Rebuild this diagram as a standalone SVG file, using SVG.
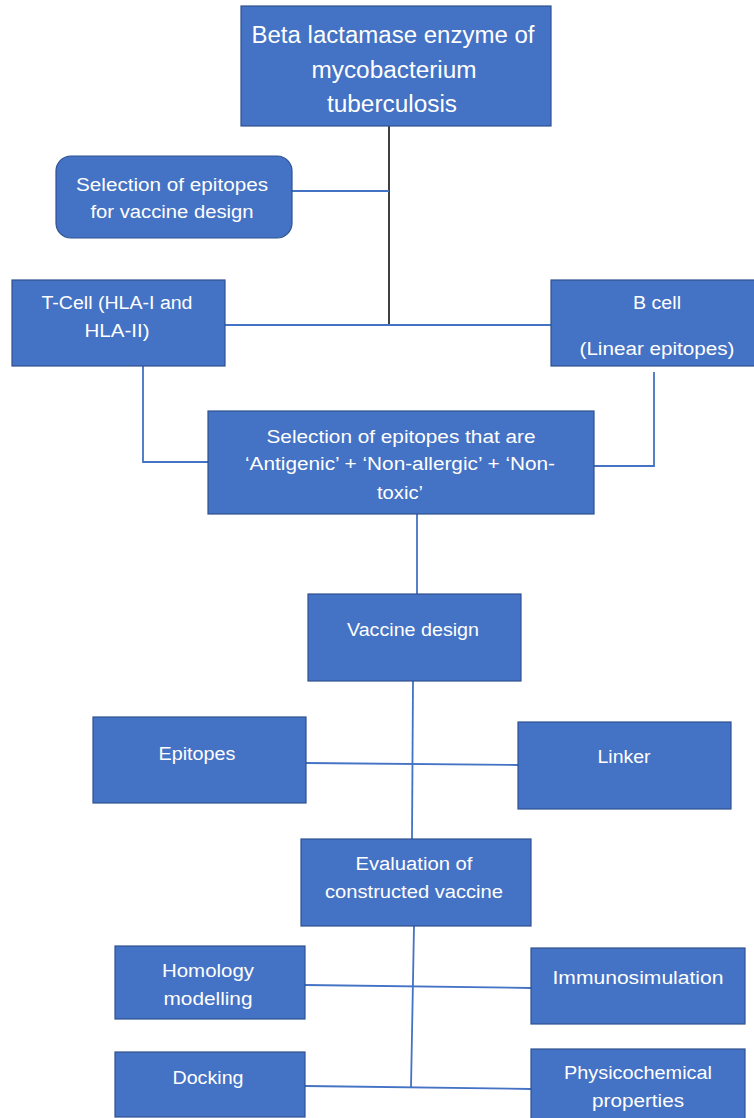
<svg xmlns="http://www.w3.org/2000/svg" width="754" height="1118" viewBox="0 0 754 1118">
<style>
.box{fill:#4472C4;stroke:#2F528F;stroke-width:1.2}
.t{font-family:"Liberation Sans",Arial,sans-serif;font-size:18px;fill:#ffffff;text-anchor:middle}
.title{font-size:23px}
.c{fill:none;stroke:#4472C4;stroke-width:1.8}
.k{fill:none;stroke:#2b2b2b;stroke-width:1.8}
</style>
<rect width="754" height="1118" fill="#ffffff"/>
<g id="connectors">
<path class="k" d="M389,126 V325"/>
<path class="c" d="M292,191 H389"/>
<path class="c" d="M225,325 H551"/>
<path class="c" d="M143,366 V462 H208"/>
<path class="c" d="M654,372 V466 H594"/>
<path class="c" d="M417,514 V594"/>
<path class="c" d="M413,681 L412,839"/>
<path class="c" d="M305,763 L518,765"/>
<path class="c" d="M414,926 L411,1088"/>
<path class="c" d="M305,985 L531,988"/>
<path class="c" d="M305,1086 L531,1089"/>
</g>
<g id="n-beta">
<rect class="box" x="241" y="6" width="310" height="120"/>
<text class="t title" x="393" y="43" textLength="283" lengthAdjust="spacingAndGlyphs">Beta lactamase enzyme of</text>
<text class="t title" x="394" y="78" textLength="165" lengthAdjust="spacingAndGlyphs">mycobacterium</text>
<text class="t title" x="392" y="112" textLength="130" lengthAdjust="spacingAndGlyphs">tuberculosis</text>
</g>
<g id="n-selection">
<rect class="box" x="56" y="156" width="236" height="82" rx="15" ry="15"/>
<text class="t" x="172" y="191" textLength="192" lengthAdjust="spacingAndGlyphs">Selection of epitopes</text>
<text class="t" x="172" y="218" textLength="163" lengthAdjust="spacingAndGlyphs">for vaccine design</text>
</g>
<g id="n-tcell">
<rect class="box" x="12" y="280" width="213" height="86"/>
<text class="t" x="117" y="309" textLength="151" lengthAdjust="spacingAndGlyphs">T-Cell (HLA-I and</text>
<text class="t" x="117" y="337" textLength="65" lengthAdjust="spacingAndGlyphs">HLA-II)</text>
</g>
<g id="n-bcell">
<rect class="box" x="551" y="280" width="210" height="86"/>
<text class="t" x="657" y="309" textLength="48" lengthAdjust="spacingAndGlyphs">B cell</text>
<text class="t" x="657" y="355" textLength="155" lengthAdjust="spacingAndGlyphs">(Linear epitopes)</text>
</g>
<g id="n-filter">
<rect class="box" x="208" y="411" width="386" height="103"/>
<text class="t" x="401" y="443" textLength="269" lengthAdjust="spacingAndGlyphs">Selection of epitopes that are</text>
<text class="t" x="400" y="470" textLength="310" lengthAdjust="spacingAndGlyphs">‘Antigenic’ + ‘Non-allergic’ + ‘Non-</text>
<text class="t" x="400" y="499" textLength="46" lengthAdjust="spacingAndGlyphs">toxic’</text>
</g>
<g id="n-vaccine">
<rect class="box" x="308" y="594" width="213" height="87"/>
<text class="t" x="413" y="636" textLength="132" lengthAdjust="spacingAndGlyphs">Vaccine design</text>
</g>
<g id="n-epitopes">
<rect class="box" x="93" y="717" width="213" height="86"/>
<text class="t" x="197" y="760" textLength="77" lengthAdjust="spacingAndGlyphs">Epitopes</text>
</g>
<g id="n-linker">
<rect class="box" x="518" y="722" width="213" height="87"/>
<text class="t" x="624" y="763" textLength="53" lengthAdjust="spacingAndGlyphs">Linker</text>
</g>
<g id="n-eval">
<rect class="box" x="301" y="839" width="230" height="87"/>
<text class="t" x="414" y="870" textLength="117" lengthAdjust="spacingAndGlyphs">Evaluation of</text>
<text class="t" x="414" y="898" textLength="178" lengthAdjust="spacingAndGlyphs">constructed vaccine</text>
</g>
<g id="n-homology">
<rect class="box" x="115" y="946" width="190" height="73"/>
<text class="t" x="208" y="977" textLength="92" lengthAdjust="spacingAndGlyphs">Homology</text>
<text class="t" x="208" y="1005" textLength="89" lengthAdjust="spacingAndGlyphs">modelling</text>
</g>
<g id="n-immuno">
<rect class="box" x="531" y="948" width="214" height="76"/>
<text class="t" x="638" y="984" textLength="171" lengthAdjust="spacingAndGlyphs">Immunosimulation</text>
</g>
<g id="n-docking">
<rect class="box" x="115" y="1052" width="190" height="65"/>
<text class="t" x="208" y="1084" textLength="71" lengthAdjust="spacingAndGlyphs">Docking</text>
</g>
<g id="n-physico">
<rect class="box" x="531" y="1049" width="214" height="75"/>
<text class="t" x="638" y="1079" textLength="148" lengthAdjust="spacingAndGlyphs">Physicochemical</text>
<text class="t" x="638" y="1107" textLength="92" lengthAdjust="spacingAndGlyphs">properties</text>
</g>
</svg>
